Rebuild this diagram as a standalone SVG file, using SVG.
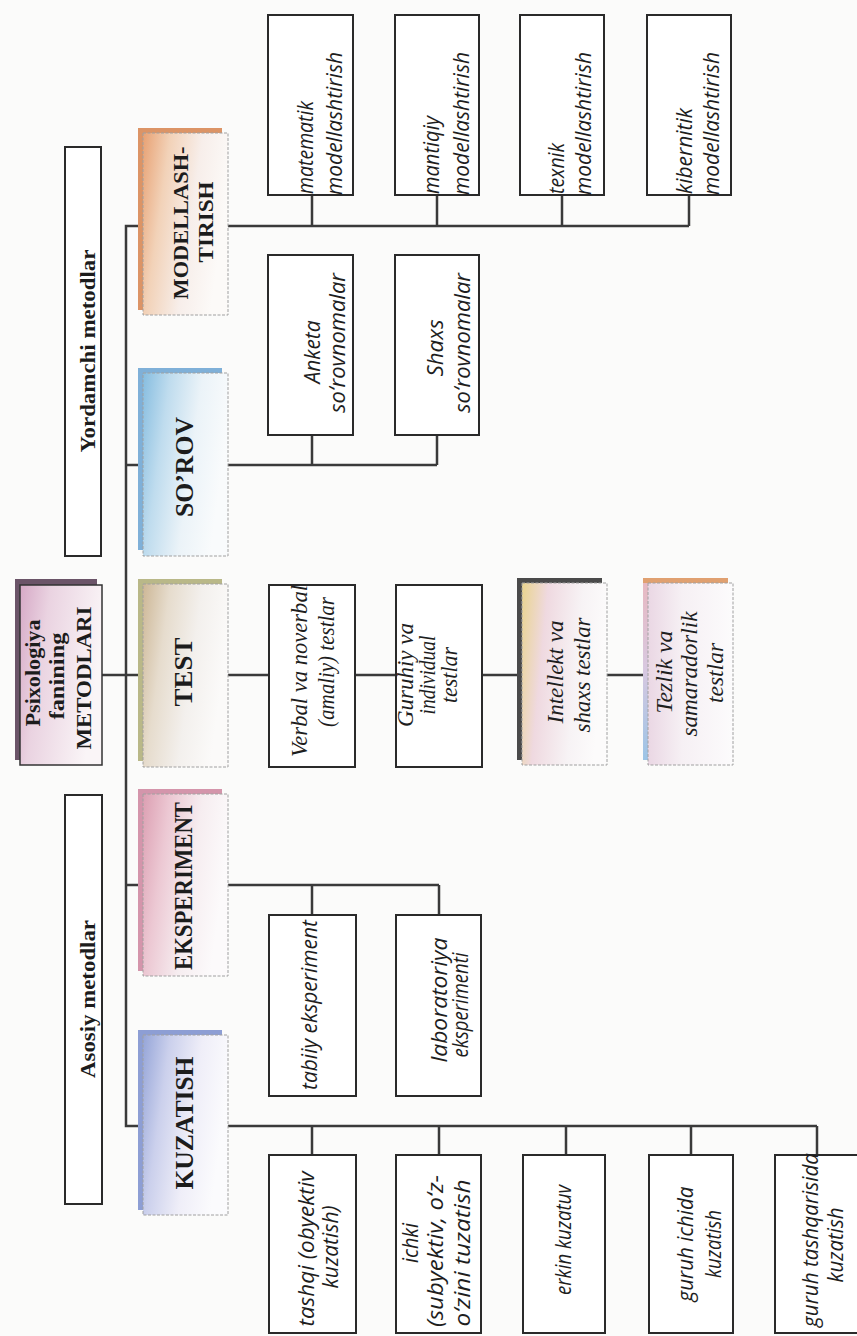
<svg xmlns="http://www.w3.org/2000/svg" width="857" height="1336" viewBox="0 0 857 1336">
<style>
.conn{stroke:#3a3a3a;stroke-width:2.5;fill:none}
.box{fill:#ffffff;stroke:#2a2a2a;stroke-width:2}
.mbox{stroke:#a0a0a0;stroke-width:1;stroke-dasharray:3 1.5}
.lab{font-family:"Liberation Serif",serif;font-weight:bold;fill:#1c1c1c;text-anchor:middle}
.big{font-size:25px}
.mid{font-size:22px}
.it{font-family:"Open Sans",Lato,sans-serif;font-style:italic;font-size:21px;fill:#1e1e1e}
.its{font-family:"Liberation Serif",serif;font-style:italic;font-size:23px;fill:#1e1e1e}
.c{text-anchor:middle}
</style>
<defs>
<linearGradient id="gMod" x1="0" y1="0" x2="1" y2="0.3"><stop offset="0" stop-color="#e8a173"/><stop offset="0.3" stop-color="#f2d2b8"/><stop offset="0.65" stop-color="#f7eeea"/><stop offset="1" stop-color="#fcfaf8"/></linearGradient>
<linearGradient id="gSor" x1="0" y1="0" x2="1" y2="0.3"><stop offset="0" stop-color="#86bde0"/><stop offset="0.3" stop-color="#bfdcee"/><stop offset="0.65" stop-color="#ebf3f8"/><stop offset="1" stop-color="#f9fbfc"/></linearGradient>
<linearGradient id="gTest" x1="0" y1="0" x2="1" y2="0.3"><stop offset="0" stop-color="#cdb796"/><stop offset="0.3" stop-color="#e6dccd"/><stop offset="0.65" stop-color="#f3f0ed"/><stop offset="1" stop-color="#fbfaf9"/></linearGradient>
<linearGradient id="gEks" x1="0" y1="0" x2="1" y2="0.3"><stop offset="0" stop-color="#dc9fb2"/><stop offset="0.3" stop-color="#ecc8d3"/><stop offset="0.65" stop-color="#f6edf0"/><stop offset="1" stop-color="#fcfafb"/></linearGradient>
<linearGradient id="gKuz" x1="0" y1="0" x2="1" y2="0.3"><stop offset="0" stop-color="#95a5d8"/><stop offset="0.3" stop-color="#cbd0ec"/><stop offset="0.65" stop-color="#efeef8"/><stop offset="1" stop-color="#fbfbfd"/></linearGradient>
<linearGradient id="gPsi" x1="0" y1="0" x2="1" y2="0.3"><stop offset="0" stop-color="#d6a9c6"/><stop offset="0.35" stop-color="#ead3e1"/><stop offset="1" stop-color="#faf5f7"/></linearGradient>
<linearGradient id="gInt" x1="0" y1="0" x2="1" y2="0.2"><stop offset="0" stop-color="#e9d48e"/><stop offset="0.3" stop-color="#efd9e0"/><stop offset="0.7" stop-color="#f7f3f5"/><stop offset="1" stop-color="#fcfbfb"/></linearGradient>
<linearGradient id="gTez" x1="0" y1="0" x2="0" y2="1"><stop offset="0" stop-color="#e8b8c0"/><stop offset="0.5" stop-color="#d8c8e0"/><stop offset="1" stop-color="#9cc4e6"/></linearGradient>
<linearGradient id="gTezF" x1="0" y1="0" x2="1" y2="0"><stop offset="0" stop-color="#ead7e4"/><stop offset="0.4" stop-color="#f6f0f4"/><stop offset="1" stop-color="#fcfbfc"/></linearGradient>
</defs>
<rect width="857" height="1336" fill="#fbfbfa"/>

<g id="connectors">
<path class="conn" d="M138 226 H126 V1126 H138"/>
<path class="conn" d="M126 465 H138 M102 675 H138 M126 885 H138"/>
<path class="conn" d="M228 226 H689 M312 195 V226 M437 195 V226 M562 195 V226 M689 195 V226"/>
<path class="conn" d="M228 465 H437 M312 435 V465 M437 435 V465"/>
<path class="conn" d="M228 675 H643"/>
<path class="conn" d="M228 885 H439 M312 885 V915 M439 885 V915"/>
<path class="conn" d="M228 1126 H817 M312 1126 V1155 M439 1126 V1155 M566 1126 V1155 M691 1126 V1155 M817 1126 V1155"/>
</g>

<g id="yordamchi">
<rect class="box" x="65" y="147" width="36" height="409"/>
<text class="lab mid" transform="translate(95,351) rotate(-90)" font-size="23" textLength="203" lengthAdjust="spacingAndGlyphs">Yordamchi metodlar</text>
</g>
<g id="asosiy">
<rect class="box" x="65" y="795" width="37" height="409"/>
<text class="lab mid" transform="translate(95,999) rotate(-90)" textLength="158" lengthAdjust="spacingAndGlyphs">Asosiy metodlar</text>
</g>
<g id="psixologiya">
<rect x="15" y="579" width="82" height="181" fill="#6b5468"/>
<rect x="20" y="585" width="82" height="180" fill="url(#gPsi)" stroke="#333" stroke-width="1.5"/>
<text class="lab mid" transform="translate(40,673) rotate(-90)" textLength="107" lengthAdjust="spacingAndGlyphs">Psixologiya</text>
<text class="lab mid" transform="translate(64,676) rotate(-90)" textLength="87" lengthAdjust="spacingAndGlyphs">fanining</text>
<text class="lab mid" transform="translate(91,678) rotate(-90)" textLength="143" lengthAdjust="spacingAndGlyphs">METODLARI</text>
</g>

<g id="modellashtirish">
<rect x="138" y="128" width="84" height="182" fill="#dc9466"/>
<rect class="mbox" x="143" y="133" width="85" height="182" fill="url(#gMod)"/>
<text class="lab mid" transform="translate(188,223) rotate(-90)" textLength="153" lengthAdjust="spacingAndGlyphs">MODELLASH-</text>
<text class="lab mid" transform="translate(213,222) rotate(-90)" textLength="81" lengthAdjust="spacingAndGlyphs">TIRISH</text>
</g>
<g id="sorov">
<rect x="138" y="368" width="84" height="182" fill="#7fb0d8"/>
<rect class="mbox" x="143" y="373" width="85" height="183" fill="url(#gSor)"/>
<text class="lab big" transform="translate(193,467) rotate(-90)" textLength="100" lengthAdjust="spacingAndGlyphs">SO’ROV</text>
</g>
<g id="test">
<rect x="138" y="579" width="84" height="182" fill="#b9b888"/>
<rect class="mbox" x="143" y="584" width="85" height="183" fill="url(#gTest)"/>
<text class="lab big" transform="translate(192,672) rotate(-90)" textLength="69" lengthAdjust="spacingAndGlyphs">TEST</text>
</g>
<g id="eksperiment">
<rect x="138" y="789" width="84" height="182" fill="#d495ab"/>
<rect class="mbox" x="143" y="794" width="85" height="182" fill="url(#gEks)"/>
<text class="lab big" transform="translate(192,886) rotate(-90)" textLength="168" lengthAdjust="spacingAndGlyphs">EKSPERIMENT</text>
</g>
<g id="kuzatish">
<rect x="138" y="1030" width="84" height="180" fill="#8d9ed4"/>
<rect class="mbox" x="143" y="1035" width="85" height="180" fill="url(#gKuz)"/>
<text class="lab big" transform="translate(193,1123) rotate(-90)" textLength="133" lengthAdjust="spacingAndGlyphs">KUZATISH</text>
</g>

<g id="matematik">
<rect class="box" x="268" y="15" width="85" height="180"/>
<text class="it" transform="translate(313,194) rotate(-90)" textLength="93" lengthAdjust="spacingAndGlyphs">matematik</text>
<text class="it" transform="translate(342,195) rotate(-90)" textLength="143" lengthAdjust="spacingAndGlyphs">modellashtirish</text>
</g>
<g id="mantiqiy">
<rect class="box" x="395" y="15" width="84" height="180"/>
<text class="it" transform="translate(439,194) rotate(-90)" textLength="78" lengthAdjust="spacingAndGlyphs">mantiqiy</text>
<text class="it" transform="translate(469,195) rotate(-90)" textLength="143" lengthAdjust="spacingAndGlyphs">modellashtirish</text>
</g>
<g id="texnik">
<rect class="box" x="520" y="15" width="84" height="180"/>
<text class="it" transform="translate(564,194) rotate(-90)" textLength="51" lengthAdjust="spacingAndGlyphs">texnik</text>
<text class="it" transform="translate(591,195) rotate(-90)" textLength="143" lengthAdjust="spacingAndGlyphs">modellashtirish</text>
</g>
<g id="kibernitik">
<rect class="box" x="647" y="15" width="84" height="180"/>
<text class="it" transform="translate(692,194) rotate(-90)" textLength="86" lengthAdjust="spacingAndGlyphs">kibernitik</text>
<text class="it" transform="translate(719,195) rotate(-90)" textLength="143" lengthAdjust="spacingAndGlyphs">modellashtirish</text>
</g>

<g id="anketa">
<rect class="box" x="268" y="255" width="85" height="180"/>
<text class="it c" transform="translate(320,352) rotate(-90)" textLength="63" lengthAdjust="spacingAndGlyphs">Anketa</text>
<text class="it c" transform="translate(345,343) rotate(-90)" textLength="140" lengthAdjust="spacingAndGlyphs">so‘rovnomalar</text>
</g>
<g id="shaxs">
<rect class="box" x="395" y="255" width="84" height="180"/>
<text class="it c" transform="translate(443,348) rotate(-90)" textLength="57" lengthAdjust="spacingAndGlyphs">Shaxs</text>
<text class="it c" transform="translate(470,343) rotate(-90)" textLength="140" lengthAdjust="spacingAndGlyphs">so‘rovnomalar</text>
</g>

<g id="verbal">
<rect class="box" x="269" y="585" width="86" height="182"/>
<text class="its c" transform="translate(307,671) rotate(-90)" textLength="172" lengthAdjust="spacingAndGlyphs">Verbal va noverbal</text>
<text class="its c" transform="translate(334,662) rotate(-90)" textLength="130" lengthAdjust="spacingAndGlyphs">(amaliy) testlar</text>
</g>
<g id="guruhiy">
<rect class="box" x="396" y="585" width="86" height="182"/>
<text class="its c" transform="translate(413,675) rotate(-90)" textLength="104" lengthAdjust="spacingAndGlyphs">Guruhiy va</text>
<text class="its c" transform="translate(435,675) rotate(-90)" textLength="79" lengthAdjust="spacingAndGlyphs">individual</text>
<text class="its c" transform="translate(457,675) rotate(-90)" textLength="56" lengthAdjust="spacingAndGlyphs">testlar</text>
</g>
<g id="intellekt">
<rect x="517" y="578" width="85" height="182" fill="#4a4a4a"/>
<rect class="mbox" x="522" y="583" width="85" height="182" fill="url(#gInt)" stroke="#777"/>
<text class="its c" transform="translate(563,672) rotate(-90)" textLength="103" lengthAdjust="spacingAndGlyphs">Intellekt va</text>
<text class="its c" transform="translate(590,675) rotate(-90)" textLength="115" lengthAdjust="spacingAndGlyphs">shaxs testlar</text>
</g>
<g id="tezlik">
<rect x="643" y="578" width="85" height="182" fill="url(#gTez)"/>
<rect x="643" y="578" width="85" height="5" fill="#e0a070"/>
<rect class="mbox" x="648" y="583" width="85" height="182" fill="url(#gTezF)"/>
<text class="its c" transform="translate(672,672) rotate(-90)" textLength="83" lengthAdjust="spacingAndGlyphs">Tezlik va</text>
<text class="its c" transform="translate(697,674) rotate(-90)" textLength="125" lengthAdjust="spacingAndGlyphs">samaradorlik</text>
<text class="its c" transform="translate(723,673) rotate(-90)" textLength="60" lengthAdjust="spacingAndGlyphs">testlar</text>
</g>

<g id="tabiiy">
<rect class="box" x="269" y="915" width="87" height="181"/>
<text class="it c" transform="translate(317,1005) rotate(-90)" textLength="170" lengthAdjust="spacingAndGlyphs">tabiiy eksperiment</text>
</g>
<g id="laboratoriya">
<rect class="box" x="396" y="915" width="85" height="181"/>
<text class="it c" transform="translate(447,1000) rotate(-90)" textLength="125" lengthAdjust="spacingAndGlyphs">laboratoriya</text>
<text class="it c" transform="translate(468,1005) rotate(-90)" textLength="105" lengthAdjust="spacingAndGlyphs">eksperimenti</text>
</g>

<g id="tashqi">
<rect class="box" x="269" y="1155" width="87" height="178"/>
<text class="it c" transform="translate(314,1249) rotate(-90)" textLength="155" lengthAdjust="spacingAndGlyphs">tashqi (obyektiv</text>
<text class="it c" transform="translate(338,1247) rotate(-90)" textLength="83" lengthAdjust="spacingAndGlyphs">kuzatish)</text>
</g>
<g id="ichki">
<rect class="box" x="396" y="1155" width="85" height="178"/>
<text class="it c" transform="translate(418,1243) rotate(-90)" textLength="40" lengthAdjust="spacingAndGlyphs">ichki</text>
<text class="it c" transform="translate(443,1251) rotate(-90)" textLength="152" lengthAdjust="spacingAndGlyphs">(subyektiv, o‘z-</text>
<text class="it c" transform="translate(470,1253) rotate(-90)" textLength="147" lengthAdjust="spacingAndGlyphs">o‘zini tuzatish</text>
</g>
<g id="erkin">
<rect class="box" x="523" y="1155" width="82" height="178"/>
<text class="it c" transform="translate(571,1240) rotate(-90)" textLength="110" lengthAdjust="spacingAndGlyphs">erkin kuzatuv</text>
</g>
<g id="guruh-ichida">
<rect class="box" x="649" y="1155" width="84" height="178"/>
<text class="it c" transform="translate(693,1244) rotate(-90)" textLength="115" lengthAdjust="spacingAndGlyphs">guruh ichida</text>
<text class="it c" transform="translate(721,1244) rotate(-90)" textLength="68" lengthAdjust="spacingAndGlyphs">kuzatish</text>
</g>
<g id="guruh-tashqarisida">
<rect class="box" x="775" y="1155" width="84" height="178"/>
<text class="it c" transform="translate(818,1240) rotate(-90)" textLength="174" lengthAdjust="spacingAndGlyphs">guruh tashqarisida</text>
<text class="it c" transform="translate(843,1245) rotate(-90)" textLength="75" lengthAdjust="spacingAndGlyphs">kuzatish</text>
</g>
</svg>
